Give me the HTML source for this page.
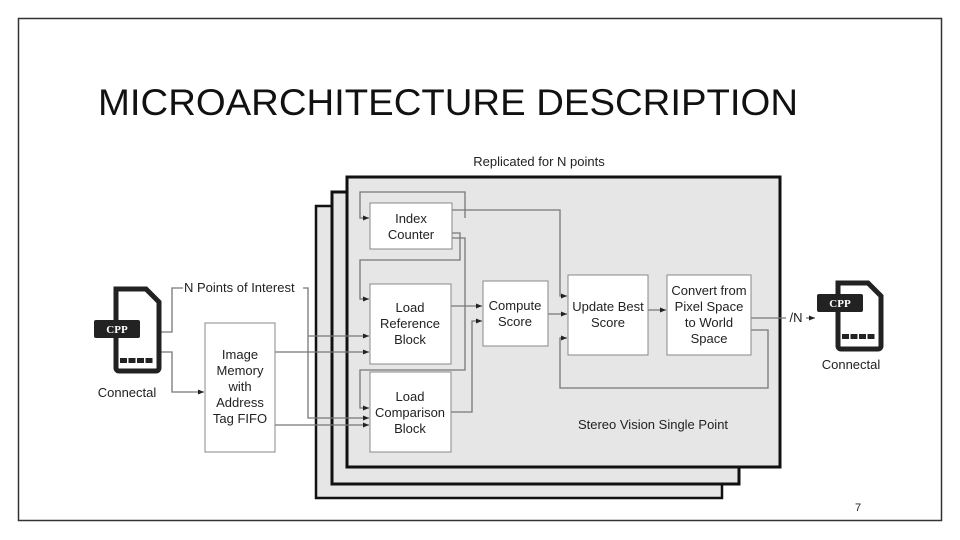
<!DOCTYPE html>
<html><head><meta charset="utf-8"><style>
body{margin:0;background:#fff}
svg{display:block}
text{font-family:"Liberation Sans",sans-serif;fill:#222}
</style></head><body>
<svg width="960" height="540" viewBox="0 0 960 540" xmlns="http://www.w3.org/2000/svg">
<defs><marker id="a" markerUnits="userSpaceOnUse" markerWidth="7" markerHeight="7" refX="6" refY="3.5" orient="auto"><path d="M0,1 L6,3.5 L0,6z" fill="#222"/></marker></defs>
<rect x="18.5" y="18.5" width="923" height="502" fill="none" stroke="#333" stroke-width="1.5"/>
<text x="98" y="115" font-size="37" textLength="700" lengthAdjust="spacingAndGlyphs" style="fill:#111">MICROARCHITECTURE DESCRIPTION</text>
<text x="539" y="166" font-size="13" text-anchor="middle">Replicated for N points</text>
<rect x="316" y="206" width="406" height="292" fill="#e6e6e6" stroke="#111" stroke-width="2.5"/>
<rect x="332" y="192" width="407" height="292" fill="#e6e6e6" stroke="#111" stroke-width="3"/>
<rect x="347" y="177" width="433" height="290" fill="#e6e6e6" stroke="#111" stroke-width="3"/>
<g fill="none" stroke="#777" stroke-width="1.3">
<polyline points="465,218 465,192 360,192 360,218 369,218" marker-end="url(#a)"/>
<polyline points="452,210 560,210 560,296 567,296" marker-end="url(#a)"/>
<polyline points="452,233 460,233 460,260 360,260 360,299 369,299" marker-end="url(#a)"/>
<polyline points="452,238 465,238 465,370 360,370 360,408 369,408" marker-end="url(#a)"/>
<polyline points="451,306 482,306" marker-end="url(#a)"/>
<polyline points="451,412 472,412 472,321 482,321" marker-end="url(#a)"/>
<polyline points="548,314 567,314" marker-end="url(#a)"/>
<polyline points="648,310 666,310" marker-end="url(#a)"/>
<polyline points="751,330 768,330 768,388 560,388 560,338 567,338" marker-end="url(#a)"/>
<polyline points="751,318 786,318"/>
<polyline points="160,332 172,332 172,288 183,288"/>
<polyline points="303,288 308,288 308,418 369,418" marker-end="url(#a)"/>
<polyline points="160,352 172,352 172,392 204,392" marker-end="url(#a)"/>
<polyline points="275,352 369,352" marker-end="url(#a)"/>
<polyline points="275,425 369,425" marker-end="url(#a)"/>
<polyline points="308,336 369,336" marker-end="url(#a)"/>
<polyline points="806,318 815,318" marker-end="url(#a)"/>
</g>
<g fill="#fff" stroke="#888" stroke-width="1">
<rect x="370" y="203" width="82" height="46"/>
<rect x="370" y="284" width="81" height="80"/>
<rect x="370" y="372" width="81" height="80"/>
<rect x="483" y="281" width="65" height="65"/>
<rect x="568" y="275" width="80" height="80"/>
<rect x="667" y="275" width="84" height="80"/>
<rect x="205" y="323" width="70" height="129"/>
</g>
<g font-size="13" text-anchor="middle">
<text x="411" y="223">Index</text><text x="411" y="239">Counter</text>
<text x="410" y="312">Load</text><text x="410" y="328">Reference</text><text x="410" y="344">Block</text>
<text x="410" y="401">Load</text><text x="410" y="417">Comparison</text><text x="410" y="433">Block</text>
<text x="515" y="310">Compute</text><text x="515" y="326">Score</text>
<text x="608" y="311">Update Best</text><text x="608" y="327">Score</text>
<text x="709" y="295">Convert from</text><text x="709" y="311">Pixel Space</text><text x="709" y="327">to World</text><text x="709" y="343">Space</text>
<text x="240" y="359">Image</text><text x="240" y="375">Memory</text><text x="240" y="391">with</text><text x="240" y="407">Address</text><text x="240" y="423">Tag FIFO</text>
<text x="653" y="429">Stereo Vision Single Point</text>
<text x="127" y="397">Connectal</text>
<text x="851" y="369">Connectal</text>
<text x="796" y="322">/N</text>
</g>
<text x="184" y="292" font-size="13">N Points of Interest</text>
<text x="858" y="511" font-size="11" text-anchor="middle">7</text>
<g>
<path d="M116,289 h30 l13,13 v66 a3,3 0 0 1 -3,3 h-37 a3,3 0 0 1 -3,-3z" fill="none" stroke="#222" stroke-width="5"/>
<rect x="94" y="320" width="46" height="18" rx="2" fill="#222"/>
<text x="117" y="333" font-size="11" font-weight="bold" text-anchor="middle" style="fill:#fff;font-family:'Liberation Serif',serif">CPP</text>
<path d="M120,360.5 h34" stroke="#222" stroke-width="5" stroke-dasharray="7,1.5"/>
<path d="M838,283 h30 l13,13 v50 a3,3 0 0 1 -3,3 h-37 a3,3 0 0 1 -3,-3z" fill="none" stroke="#222" stroke-width="5"/>
<rect x="817" y="294" width="46" height="18" rx="2" fill="#222"/>
<text x="840" y="307" font-size="11" font-weight="bold" text-anchor="middle" style="fill:#fff;font-family:'Liberation Serif',serif">CPP</text>
<path d="M842,336.5 h34" stroke="#222" stroke-width="5" stroke-dasharray="7,1.5"/>
</g>
</svg>
</body></html>
